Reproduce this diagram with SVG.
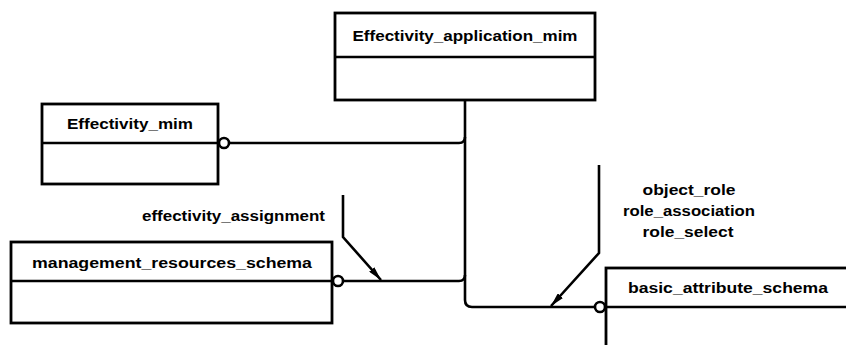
<svg xmlns="http://www.w3.org/2000/svg" width="846" height="345" viewBox="0 0 846 345">
<style>
.box{fill:#fff;stroke:#000;stroke-width:2.8}
.div{stroke:#000;stroke-width:2.5}
.ln{fill:none;stroke:#000;stroke-width:2.6}
.c{fill:#fff;stroke:#000;stroke-width:2.6}
.t{font-family:"Liberation Sans",Arial,sans-serif;font-weight:bold;font-size:14px;fill:#000}
</style>
<defs>
<marker id="ah" viewBox="0 0 14 7" refX="14" refY="3.5" markerWidth="14" markerHeight="7" markerUnits="userSpaceOnUse" orient="auto">
<path d="M0,0 L14,3.5 L0,7 Z" fill="#000"/>
</marker>
</defs>
<rect width="846" height="345" fill="#fff"/>
<g id="connectors">
<path class="ln" d="M229,143 H459 Q465,143 465,137"/>
<path class="ln" d="M343,281 H459 Q465,281 465,275"/>
<path class="ln" d="M465,100 V300 Q465,307 472,307 H595"/>
<path class="ln" d="M343,195 V237 L381,280" marker-end="url(#ah)"/>
<path class="ln" d="M599,165 V253 L551,306" marker-end="url(#ah)"/>
<circle class="c" cx="224" cy="143" r="5"/>
<circle class="c" cx="338" cy="281" r="5"/>
<circle class="c" cx="600" cy="307" r="5"/>
<text class="t" x="325" y="221" text-anchor="end" textLength="183" lengthAdjust="spacingAndGlyphs">effectivity_assignment</text>
<text class="t" x="689" y="195" text-anchor="middle" textLength="93" lengthAdjust="spacingAndGlyphs">object_role</text>
<text class="t" x="689" y="216" text-anchor="middle" textLength="132" lengthAdjust="spacingAndGlyphs">role_association</text>
<text class="t" x="688" y="237" text-anchor="middle" textLength="91" lengthAdjust="spacingAndGlyphs">role_select</text>
</g>
<g id="effectivity_application_mim">
<rect class="box" x="335" y="13" width="260" height="87"/>
<line class="div" x1="335" y1="57" x2="595" y2="57"/>
<text class="t" x="465" y="41" text-anchor="middle" textLength="225" lengthAdjust="spacingAndGlyphs">Effectivity_application_mim</text>
</g>
<g id="effectivity_mim">
<rect class="box" x="42" y="104" width="176" height="80"/>
<line class="div" x1="42" y1="143" x2="218" y2="143"/>
<text class="t" x="130" y="129" text-anchor="middle" textLength="126" lengthAdjust="spacingAndGlyphs">Effectivity_mim</text>
</g>
<g id="management_resources_schema">
<rect class="box" x="11" y="242" width="321" height="81"/>
<line class="div" x1="11" y1="281" x2="332" y2="281"/>
<text class="t" x="172" y="268" text-anchor="middle" textLength="280" lengthAdjust="spacingAndGlyphs">management_resources_schema</text>
</g>
<g id="basic_attribute_schema">
<rect class="box" x="606" y="268" width="260" height="100"/>
<line class="div" x1="606" y1="307" x2="846" y2="307"/>
<text class="t" x="728" y="293" text-anchor="middle" textLength="200" lengthAdjust="spacingAndGlyphs">basic_attribute_schema</text>
</g>
</svg>
